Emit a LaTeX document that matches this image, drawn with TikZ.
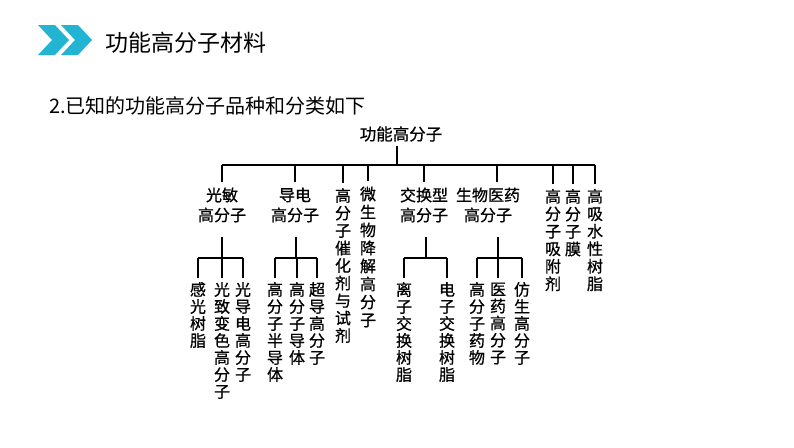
\documentclass[tikz,border=0pt]{standalone}
\usepackage{fontspec}
\newfontfamily\cjk{Noto Sans CJK SC}
\newfontfamily\cjkt[FakeBold=0.8]{Noto Sans CJK SC}
\definecolor{chevcol}{RGB}{35,180,212}
\begin{document}
\begin{tikzpicture}[x=1pt,y=-1pt,
  lbl/.style={font=\cjkt\fontsize{16}{20}\selectfont, inner sep=0pt, align=center},
  colA/.style={font=\cjkt\fontsize{16}{17.5}\selectfont, inner sep=0pt, align=center},
  colB/.style={font=\cjkt\fontsize{16}{17}\selectfont, inner sep=0pt, align=center},
  conn/.style={line width=1.2pt, black},
  chev/.style={fill=chevcol}]
\useasboundingbox (0,0) rectangle (794,447);
% header
\fill[chev] (38,25) -- (55,25) -- (69,40) -- (55,55) -- (38,55) -- (52,40) -- cycle;
\fill[chev] (61,25) -- (78,25) -- (92,40) -- (78,55) -- (61,55) -- (75,40) -- cycle;
\node[anchor=west, inner sep=0pt, font=\cjk\fontsize{23}{26}\selectfont] (title) at (105,43) {功能高分子材料};
\node[anchor=west, inner sep=0pt, font=\cjk\fontsize{20}{24}\selectfont] (sub) at (49,106) {2.已知的功能高分子品种和分类如下};
% root
\node[font=\cjkt\fontsize{16.5}{20}\selectfont, inner sep=0pt] (root) at (401,134) {功能高分子};
% first level
\node[lbl] (c1) at (222,205) {光敏\\高分子};
\node[lbl] (c2) at (295,205) {导电\\高分子};
\node[colA] (c3) at (343,265.5) {高\\分\\子\\催\\化\\剂\\与\\试\\剂};
\node[colA, font=\cjkt\fontsize{16}{18}\selectfont] (c4) at (368,257) {微\\生\\物\\降\\解\\高\\分\\子};
\node[lbl] (c5) at (424,205) {交换型\\高分子};
\node[lbl] (c6) at (488,205) {生物医药\\高分子};
\node[colA] (c7) at (553,240) {高\\分\\子\\吸\\附\\剂};
\node[colA] (c8) at (573,222.75) {高\\分\\子\\膜};
\node[colA] (c9) at (595,240) {高\\吸\\水\\性\\树\\脂};
% second level
\node[colB] (d1) at (198,315) {感\\光\\树\\脂};
\node[colB] (d2) at (222,340.5) {光\\致\\变\\色\\高\\分\\子};
\node[colB] (d3) at (243,332) {光\\导\\电\\高\\分\\子};
\node[colB] (d4) at (275,332) {高\\分\\子\\半\\导\\体};
\node[colB] (d5) at (297,323.5) {高\\分\\子\\导\\体};
\node[colB] (d6) at (317,323.5) {超\\导\\高\\分\\子};
\node[colB] (d7) at (404,332) {离\\子\\交\\换\\树\\脂};
\node[colB] (d8) at (447,332) {电\\子\\交\\换\\树\\脂};
\node[colB] (d9) at (477,323.5) {高\\分\\子\\药\\物};
\node[colB] (d10) at (498,323.5) {医\\药\\高\\分\\子};
\node[colB] (d11) at (522,323.5) {仿\\生\\高\\分\\子};
% connectors
\coordinate (b0) at (0,165);
\coordinate (b1) at (0,258);
\draw[conn] ([xshift=-4pt,yshift=-4pt]root.south) -- ([xshift=-4pt]root.south |- b0);
\draw[conn] (c1.north |- b0) -- (c9.north |- b0);
\foreach \n in {c1,c2,c3,c4,c5,c7,c8,c9}
  \draw[conn] (\n.north |- b0) -- ([yshift=5pt]\n.north);
\draw[conn] ([xshift=9pt]c6.north |- b0) -- ([xshift=9pt,yshift=5pt]c6.north);
% second level connectors
\draw[conn] ([yshift=-14pt]c1.south) -- (c1.south |- b1);
\draw[conn] (d1.north |- b1) -- (d3.north |- b1);
\draw[conn] ([xshift=1pt,yshift=-14pt]c2.south) -- ([xshift=1pt]c2.south |- b1);
\draw[conn] (d4.north |- b1) -- (d6.north |- b1);
\draw[conn] ([xshift=2pt,yshift=-14pt]c5.south) -- ([xshift=2pt]c5.south |- b1);
\draw[conn] (d7.north |- b1) -- (d8.north |- b1);
\draw[conn] ([xshift=10pt,yshift=-14pt]c6.south) -- ([xshift=10pt]c6.south |- b1);
\draw[conn] (d9.north |- b1) -- (d11.north |- b1);
\foreach \n in {d1,d2,d3,d4,d5,d6,d7,d8,d9,d10,d11}
  \draw[conn] (\n.north |- b1) -- ([yshift=4pt]\n.north);
\end{tikzpicture}
\end{document}
